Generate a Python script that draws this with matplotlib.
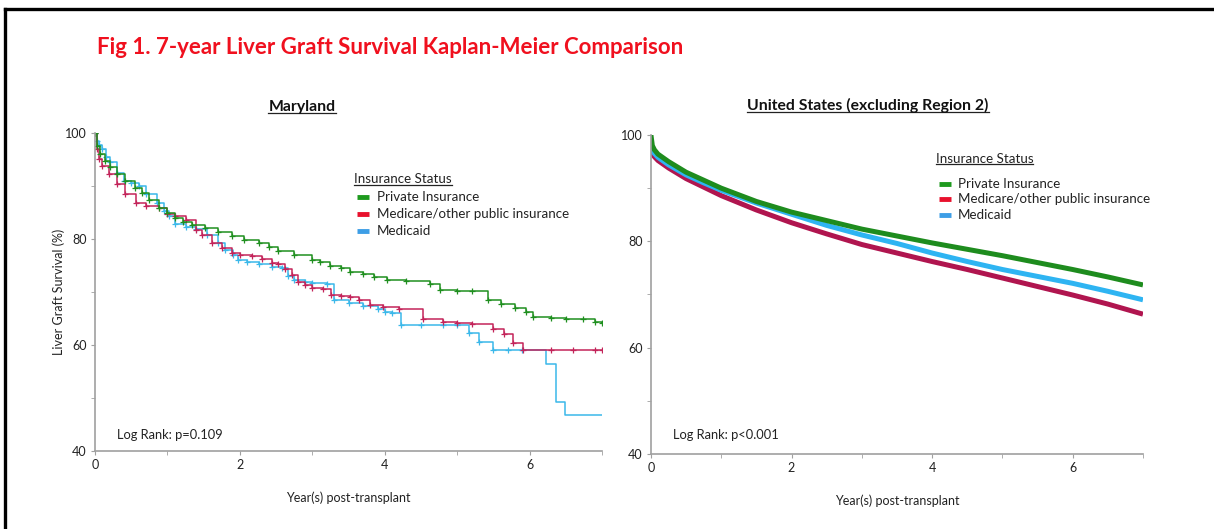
import numpy as np
import matplotlib.pyplot as plt
from matplotlib.lines import Line2D

plt.rcParams['font.family'] = ['Lato', 'DejaVu Sans']

# ---- Maryland KM curves (years, survival %) ----
md_green_t = [0, 0.03, 0.07, 0.14, 0.2, 0.3, 0.42, 0.55, 0.65, 0.75, 0.88, 1.0, 1.11, 1.22,
              1.34, 1.52, 1.7, 1.89, 2.05, 2.26, 2.4, 2.53, 2.75, 2.99, 3.1, 3.25, 3.4, 3.52,
              3.7, 3.85, 4.03, 4.3, 4.63, 4.76, 5.0, 5.2, 5.43, 5.6, 5.8, 5.95, 6.05, 6.3,
              6.5, 6.74, 6.9, 7.0]
md_green_s = [100, 97.5, 96, 94.7, 93.5, 92.3, 90.9, 89.6, 88.7, 87.3, 85.8, 84.9, 84, 83.3,
              82.7, 82.1, 81.3, 80.5, 79.9, 79.2, 78.5, 77.7, 76.9, 76.1, 75.6, 75.0, 74.5, 73.8,
              73.4, 72.9, 72.3, 72.1, 71.6, 70.4, 70.2, 70.1, 68.5, 67.8, 67.0, 66.3, 65.3, 65.1,
              65.0, 64.9, 64.4, 64.2]

md_red_t = [0, 0.03, 0.06, 0.1, 0.19, 0.3, 0.42, 0.56, 0.7, 0.88, 1.0, 1.11, 1.25, 1.4,
            1.48, 1.61, 1.75, 1.89, 2.0, 2.17, 2.3, 2.45, 2.53, 2.62, 2.72, 2.8, 2.9, 3.0,
            3.15, 3.26, 3.4, 3.52, 3.65, 3.8, 3.98, 4.2, 4.53, 4.8, 5.0, 5.2, 5.5, 5.65,
            5.77, 5.91, 6.3, 6.6, 6.9, 7.0]
md_red_s = [100, 97, 95, 93.7, 92.2, 90.3, 88.4, 86.8, 86.2, 85.8, 84.8, 84.3, 83.5, 81.7,
            80.8, 79.2, 78.3, 77.4, 76.9, 76.7, 76.2, 75.5, 75.2, 74.3, 73.3, 71.8, 71.3, 70.7,
            70.5, 69.4, 69.2, 69.0, 68.4, 67.6, 67.1, 66.7, 65.0, 64.4, 64.2, 64.0, 63.1, 62.0,
            60.3, 59.1, 59.1, 59.1, 59.1, 59.1]

md_blue_t = [0, 0.03, 0.06, 0.1, 0.15, 0.2, 0.3, 0.4, 0.5, 0.6, 0.7, 0.85, 0.95, 1.02,
             1.11, 1.25, 1.4, 1.55, 1.7, 1.8, 1.9, 1.98, 2.1, 2.26, 2.45, 2.58, 2.67, 2.75,
             2.9, 3.0, 3.2, 3.3, 3.5, 3.7, 3.9, 4.0, 4.1, 4.23, 4.5, 4.8, 5.0, 5.17, 5.3,
             5.5, 5.7, 5.9, 6.23, 6.37, 6.49, 7.0]
md_blue_s = [100, 98.5, 97.8, 97, 95.5, 94.5, 92.5, 91, 90.6, 90, 88.4, 86.8, 85.2, 84.3,
             82.8, 82.2, 81.8, 80.8, 79.2, 78, 77, 76.1, 75.6, 75.2, 74.8, 74.5, 73.1, 72.3,
             71.8, 71.7, 71.5, 68.5, 67.9, 67.4, 66.8, 66.2, 66.0, 63.8, 63.8, 63.7, 63.7, 62.2, 60.6,
             59.1, 59.1, 59.1, 56.5, 49.3, 46.8, 46.8]

# ---- US (excluding Region 2) ----
us_t = [0, 0.02, 0.05, 0.1, 0.25, 0.5, 0.75, 1.0, 1.5, 2.0, 2.5, 3.0, 3.5, 4.0,
        4.5, 5.0, 5.5, 6.0, 6.5, 7.0]
us_green = [100, 98.0, 97.2, 96.4, 95.0, 93.0, 91.5, 90.0, 87.5, 85.5, 83.9, 82.3, 81.0, 79.7,
            78.5, 77.3, 76.0, 74.7, 73.3, 71.8]
us_blue = [98.5, 97.2, 96.5, 95.8, 94.4, 92.5, 91.0, 89.6, 87.2, 85.1, 83.0, 81.2, 79.6, 77.8,
           76.2, 74.7, 73.4, 72.1, 70.6, 69.0]
us_red = [97.5, 96.5, 95.9, 95.2, 93.8, 91.8, 90.2, 88.6, 85.9, 83.5, 81.4, 79.4, 77.8, 76.2,
          74.7, 73.1, 71.5, 69.9, 68.2, 66.3]

groups = ['Private Insurance', 'Medicare/other public insurance', 'Medicaid']
leg_colors = ['#1e9a1e', '#e8112d', '#3d9ee6']

fig = plt.figure(figsize=(12.14, 5.29), dpi=100)
axL = fig.add_axes([0.0783, 0.1474, 0.4176, 0.6012])
axR = fig.add_axes([0.5362, 0.1418, 0.4053, 0.6030])

# left: step curves with censor marks
axL.plot(md_blue_t, md_blue_s, drawstyle='steps-post', color='#3bb8ea', lw=1.1,
         marker='+', ms=4, mew=0.9, markevery=slice(0, -4))
axL.plot(md_red_t, md_red_s, drawstyle='steps-post', color='#c3245a', lw=1.1,
         marker='+', ms=4, mew=0.9)
axL.plot(md_green_t, md_green_s, drawstyle='steps-post', color='#1f8f1f', lw=1.1,
         marker='+', ms=4, mew=0.9)

# right: smooth thick curves
axR.plot(us_t, us_red, color='#b0154f', lw=3.6, solid_capstyle='butt')
axR.plot(us_t, us_blue, color='#2eb4f2', lw=3.6, solid_capstyle='butt')
axR.plot(us_t, us_green, color='#1e8c1e', lw=3.6, solid_capstyle='butt')

for ax in (axL, axR):
    ax.set_xlim(0, 7)
    ax.set_ylim(40, 100)
    ax.set_xticks([0, 2, 4, 6])
    ax.set_xticks([1, 3, 5, 7], minor=True)
    ax.set_yticks([40, 60, 80, 100])
    ax.set_yticks([50, 70, 90], minor=True)
    for s in ('top', 'right'):
        ax.spines[s].set_visible(False)
    for s in ('left', 'bottom'):
        ax.spines[s].set_color('#a0a0a0')
        ax.spines[s].set_linewidth(1.2)
    ax.tick_params(which='both', length=3, color='#a0a0a0', labelsize=9,
                   labelcolor='#222222', pad=3)
    ax.set_xlabel('Year(s) post-transplant', fontsize=9, color='#222222', labelpad=14.5)
    ax.set_facecolor('none')

axL.set_ylabel('Liver Graft Survival (%)', fontsize=9, color='#222222', labelpad=0)


def legend(ax, x0, ytitle, ys):
    ax.text(x0, ytitle, 'Insurance Status', transform=ax.transAxes, fontsize=9.6,
            va='center', ha='left', color='#222222')
    for y, lab, c in zip(ys, groups, leg_colors):
        ax.add_line(Line2D([x0 + 0.006, x0 + 0.03], [y, y], transform=ax.transAxes,
                           color=c, lw=3.5, solid_capstyle='butt'))
        ax.text(x0 + 0.045, y, lab, transform=ax.transAxes, fontsize=9.6,
                va='center', ha='left', color='#222222')


legend(axL, 0.511, 0.855, [0.799, 0.745, 0.692])
legend(axR, 0.579, 0.925, [0.846, 0.799, 0.749])

axL.text(0.043, 0.05, 'Log Rank: p=0.109', transform=axL.transAxes, fontsize=9.3,
         va='center', color='#222222')
axR.text(0.045, 0.06, 'Log Rank: p<0.001', transform=axR.transAxes, fontsize=9.3,
         va='center', color='#222222')

tL = fig.text(302 / 1214, 1 - 107 / 529, 'Maryland', ha='center', va='center',
              fontsize=11.3, fontweight='bold', color='#111111')
tR = fig.text(868 / 1214, 1 - 105 / 529, 'United States (excluding Region 2)',
              ha='center', va='center', fontsize=11.3, fontweight='bold', color='#111111')
fig.text(97 / 1214, 1 - 47 / 529, 'Fig 1. 7-year Liver Graft Survival Kaplan-Meier Comparison',
         ha='left', va='center', fontsize=16, fontweight='bold', color='#f0101e')

# frame (top and left edges)
fig.add_artist(Line2D([5 / 1214, 1], [1 - 9 / 529, 1 - 9 / 529], transform=fig.transFigure,
                      color='black', lw=2.4))
fig.add_artist(Line2D([5 / 1214, 5 / 1214], [0, 1 - 9 / 529], transform=fig.transFigure,
                      color='black', lw=2.4))

# underline titles
fig.canvas.draw()
r = fig.canvas.get_renderer()
underline_texts = [tL, tR] + [t for ax in (axL, axR) for t in ax.texts
                              if t.get_text() == 'Insurance Status']
for t in underline_texts:
    bb = t.get_window_extent(r).transformed(fig.transFigure.inverted())
    y = bb.y0 + 0.001
    fig.add_artist(Line2D([bb.x0, bb.x1], [y, y], transform=fig.transFigure,
                          color='#222222', lw=0.9))

plt.savefig('out.png', dpi=100)
